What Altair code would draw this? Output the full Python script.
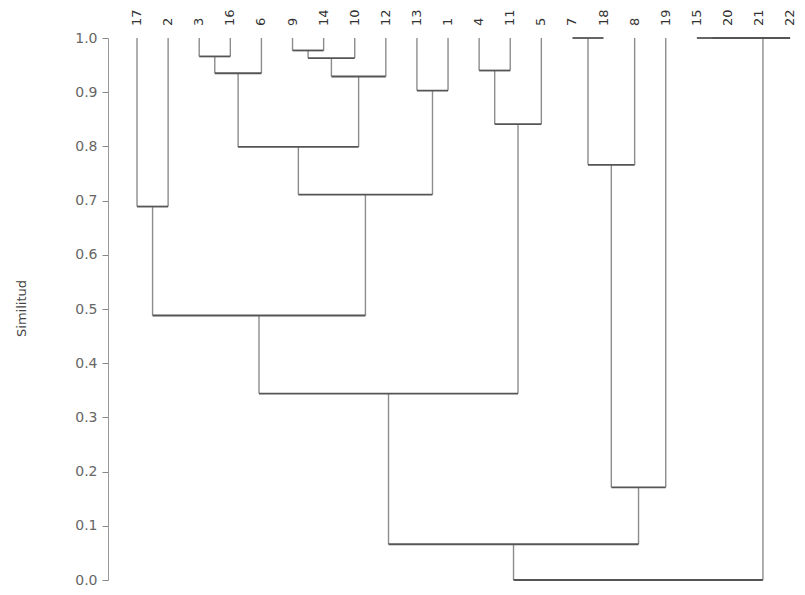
import altair as alt
import pandas as pd

# Leaf order along the top (left to right)
leaves = ["17", "2", "3", "16", "6", "9", "14", "10", "12", "13", "1",
          "4", "11", "5", "7", "18", "8", "19", "15", "20", "21", "22"]

# Merges: node n<i> joins merge_a[i] and merge_b[i] at similarity merge_sim[i]
merge_a = ["17", "3", "n1", "9", "n3", "n4", "n2", "13", "n6", "n0", "4",
           "n10", "n9", "7", "n13", "n14", "n12", "15", "n17", "n18", "n16"]
merge_b = ["2", "16", "6", "14", "10", "12", "n5", "1", "n7", "n8", "11",
           "5", "n11", "18", "8", "19", "n15", "20", "21", "22", "n19"]
merge_sim = [0.689, 0.966, 0.935, 0.977, 0.963, 0.929, 0.799, 0.903, 0.711,
             0.488, 0.940, 0.841, 0.344, 1.0, 0.766, 0.171, 0.066, 1.0,
             1.0, 1.0, 0.0]

y_ticks = [0.0, 0.1, 0.2, 0.3, 0.4, 0.5, 0.6, 0.7, 0.8, 0.9, 1.0]

# Build dendrogram segments (x in leaf index units, y in similarity)
pos = {name: float(i) for i, name in enumerate(leaves)}
hgt = {name: 1.0 for name in leaves}
hrows, vrows = [], []
for i, (a, b, s) in enumerate(zip(merge_a, merge_b, merge_sim)):
    xa, xb = pos[a], pos[b]
    vrows.append({"x": xa, "y": hgt[a], "y2": s})
    vrows.append({"x": xb, "y": hgt[b], "y2": s})
    hrows.append({"x": xa, "x2": xb, "y": s})
    node = f"n{i}"
    pos[node] = (xa + xb) / 2
    hgt[node] = s

hdf = pd.DataFrame(hrows)
vdf = pd.DataFrame(vrows)
ldf = pd.DataFrame({"x": [float(i) for i in range(len(leaves))], "label": leaves})

xscale = alt.Scale(domain=[-0.933, 21.22], nice=False, zero=False)
yscale = alt.Scale(domain=[0, 1], nice=False)

yaxis = alt.Axis(values=y_ticks, format=".1f", grid=False, title="Similitud",
                 domainColor="#999", tickColor="#888", tickSize=6,
                 labelColor="#666", labelFont="DejaVu Sans", labelFontSize=14,
                 labelPadding=5, titleFont="DejaVu Sans", titleFontSize=13,
                 titleFontWeight="normal", titleColor="#444", titleAngle=270,
                 titleX=-87, titleY=270, titleAlign="center", titleBaseline="middle")

vert = alt.Chart(vdf).mark_rule(color="#8c8c8c", strokeWidth=1.4).encode(
    x=alt.X("x:Q", scale=xscale, axis=None),
    y=alt.Y("y:Q", scale=yscale, axis=yaxis),
    y2="y2:Q",
)

horiz = alt.Chart(hdf).mark_rule(color="#555555", strokeWidth=1.8).encode(
    x=alt.X("x:Q", scale=xscale, axis=None),
    x2="x2:Q",
    y=alt.Y("y:Q", scale=yscale),
)

labels = alt.Chart(ldf).mark_text(
    angle=270, align="left", baseline="middle", font="DejaVu Sans",
    fontSize=13, color="#333"
).encode(
    x=alt.X("x:Q", scale=xscale, axis=None),
    y=alt.value(-12),
    text="label:N",
)

chart = alt.layer(vert, horiz, labels).properties(
    width=689, height=542,
    autosize=alt.AutoSizeParams(type="none"),
    padding={"left": 100, "top": 30, "right": 0, "bottom": 6},
    background="white",
).configure_view(stroke=None)

chart.save("out.html", embed_options={"renderer": "svg", "actions": False})
